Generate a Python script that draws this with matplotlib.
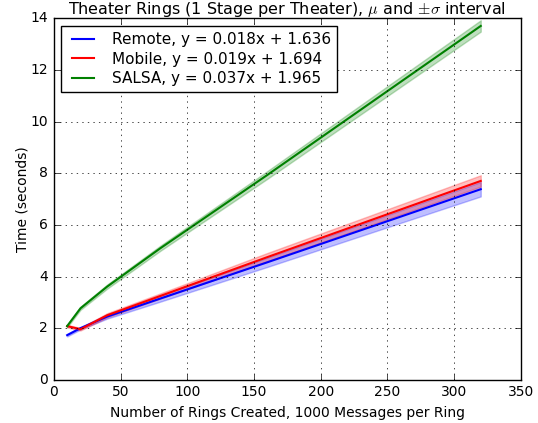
import matplotlib
matplotlib.use("Agg")
import matplotlib.pyplot as plt
import numpy as np

plt.style.use('classic')

rings = [10, 20, 40, 80, 160, 320]
remote_mu = [1.73, 2.00, 2.45, 3.15, 4.55, 7.38]
remote_sd = [0.05, 0.05, 0.08, 0.12, 0.18, 0.28]
mobile_mu = [2.08, 1.96, 2.50, 3.25, 4.75, 7.70]
mobile_sd = [0.05, 0.05, 0.08, 0.10, 0.16, 0.22]
salsa_mu = [2.08, 2.77, 3.61, 5.10, 7.93, 13.70]
salsa_sd = [0.05, 0.06, 0.08, 0.10, 0.15, 0.22]

labels = ["Remote, y = 0.018x + 1.636",
          "Mobile, y = 0.019x + 1.694",
          "SALSA, y = 0.037x + 1.965"]
colors = ['b', 'r', 'g']

fig = plt.figure(figsize=(5.38, 4.23), dpi=100)
ax = fig.add_axes([0.1, 0.102, 0.868, 0.855])

x = np.array(rings)
for mu, sd, c, lab in zip([remote_mu, mobile_mu, salsa_mu],
                          [remote_sd, mobile_sd, salsa_sd], colors, labels):
    mu = np.array(mu); sd = np.array(sd)
    ax.fill_between(x, mu - sd, mu + sd, color=c, alpha=0.25)
    ax.plot(x, mu, color=c, lw=1.5, label=lab)

ax.set_xlim(0, 350)
ax.set_ylim(0, 14)
ax.grid(True)
ax.tick_params(labelsize=10)
ax.set_title(r"Theater Rings (1 Stage per Theater), $\mu$ and $\pm\sigma$ interval",
             fontsize=11.5, pad=3)
ax.set_xlabel("Number of Rings Created, 1000 Messages per Ring", fontsize=10)
ax.set_ylabel("Time (seconds)", fontsize=10, labelpad=1)
ax.legend(loc='upper left', fontsize=11, labelspacing=0.3, handletextpad=0.9)

fig.savefig("out.png", dpi=100)
